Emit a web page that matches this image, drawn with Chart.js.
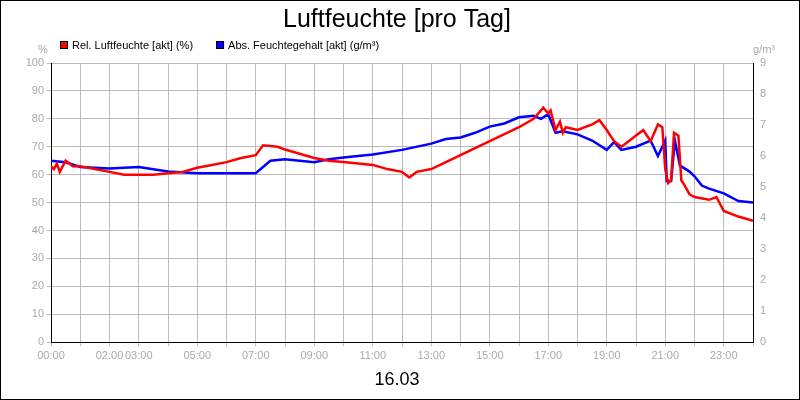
<!DOCTYPE html>
<html><head><script src="https://cdn.jsdelivr.net/npm/chart.js@4"></script>
<style>html,body{margin:0;padding:0;background:#fff}#w{position:relative;width:798px;height:398px;border:1px solid #000}</style></head>
<body><div id="w"><canvas id="c" width="798" height="398"></canvas></div>
<script>
const relTimes=[0,0.1,0.2,0.3,0.5,0.75,1,1.5,2,2.5,3,3.5,4,4.5,5,5.5,6,6.5,7,7.25,7.75,8,8.5,9,9.5,10,10.5,11,11.5,12,12.25,12.5,13,13.5,14,14.5,15,15.5,16,16.5,16.83,17,17.08,17.25,17.4,17.5,17.6,18,18.5,18.75,19,19.25,19.5,19.75,20,20.25,20.5,20.75,20.9,21,21.1,21.2,21.3,21.45,21.55,21.67,21.83,22,22.5,22.75,23,23.5,24];
const relVals=[63,62,64,61,65,63,63,62,61,60,60,60,60.5,61,62.5,63.5,64.5,66,67,70.5,70,69,67.5,66,65,64.5,64,63.5,62,61,59,61,62,64.5,67,69.5,72,74.5,77,80,84,82,83,76,79,75,77,76,78,79.5,76,72,70,72,74,76,72,78,77,62,57,58,75,74,58,56,53,52,51,52,47,45,43.5];
const absTimes=[0,0.5,1,2,3,4,5,6,7,7.5,8,9,9.5,10,11,12,13,13.5,14,14.5,15,15.5,16,16.5,16.75,17,17.25,17.5,18,18.5,19,19.25,19.5,20,20.5,20.75,21,21.05,21.2,21.33,21.5,21.83,22,22.25,22.5,23,23.5,24];
const absVals=[5.85,5.8,5.65,5.6,5.65,5.5,5.45,5.45,5.45,5.85,5.9,5.8,5.9,5.95,6.05,6.2,6.4,6.55,6.6,6.75,6.95,7.05,7.25,7.3,7.2,7.35,6.75,6.8,6.7,6.5,6.2,6.45,6.2,6.3,6.5,6.0,6.5,5.2,5.2,6.5,5.7,5.5,5.35,5.05,4.95,4.8,4.55,4.5];
const shownHours=[0,2,3,5,7,9,11,13,15,17,19,21,23];
const legendItems=[['Rel. Luftfeuchte [akt] (%)','#ff0000'],['Abs. Feuchtegehalt [akt] (g/m³)','#0000ff']];
const zip=(t,v)=>t.map((x,i)=>({x:x,y:v[i]}));
const extras={id:'u',afterDraw(c){const x=c.ctx;x.save();x.font='11px Arial';x.fillStyle='#aaa';x.textAlign='center';x.fillText('%',42,52);x.fillText('g/m³',763,52);
 x.textAlign='left';x.textBaseline='middle';let px=59;for(const [t,col] of legendItems){x.fillStyle=col;x.fillRect(px,40,8,8);x.strokeStyle='#000';x.lineWidth=1;x.strokeRect(px+0.5,40.5,7,7);x.fillStyle='#000';x.fillText(t,px+12,44.5);px+=x.measureText(t).width+35;}
 x.restore();}};
new Chart(document.getElementById('c'),{type:'line',plugins:[extras],
data:{datasets:[
{label:legendItems[0][0],data:zip(relTimes,relVals),borderColor:'#ff0000',borderWidth:2.5,pointRadius:0,yAxisID:'y',tension:0},
{label:legendItems[1][0],data:zip(absTimes,absVals),borderColor:'#0000ff',borderWidth:2.5,pointRadius:0,yAxisID:'y1',tension:0}]},
options:{responsive:false,animation:false,layout:{padding:{left:0,right:6,top:0,bottom:0}},
plugins:{title:{display:true,text:'Luftfeuchte [pro Tag]',color:'#000',font:{family:'Arial',size:25,weight:'normal'},padding:{top:4,bottom:28}},
legend:{display:false},
subtitle:{display:true,position:'bottom',text:'16.03',color:'#000',font:{family:'Arial',size:18},padding:{top:4,bottom:8}}},
scales:{
x:{type:'linear',min:0,max:24,border:{color:'#000'},grid:{color:'#bbb',tickLength:4,tickColor:'#bbb'},ticks:{stepSize:1,autoSkip:false,maxRotation:0,color:'#aaa',font:{family:'Arial',size:11},callback:v=>shownHours.includes(v)?String(v).padStart(2,'0')+':00':''}},
y:{position:'left',min:0,max:100,border:{color:'#000'},grid:{color:'#bbb',tickLength:4},ticks:{stepSize:10,color:'#aaa',font:{family:'Arial',size:11}},afterFit(s){s.width=50}},
y1:{position:'right',min:0,max:9,border:{color:'#000'},grid:{display:false,tickLength:4},ticks:{stepSize:1,color:'#aaa',font:{family:'Arial',size:11}},afterFit(s){s.width=40}}}}});
</script></body></html>
